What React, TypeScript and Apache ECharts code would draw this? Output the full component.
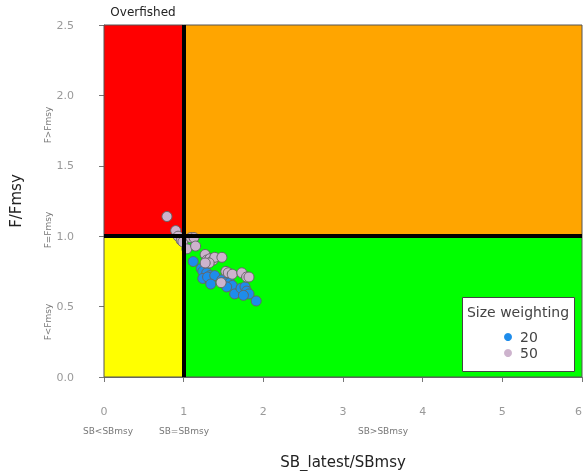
import React, { useEffect, useRef } from "react";
import * as echarts from "echarts";

const xTicks = [0, 1, 2, 3, 4, 5, 6];
const yTicks = [0, 0.5, 1.0, 1.5, 2.0, 2.5];

// Size weighting = 20
const sb20 = [1.12, 1.22, 1.24, 1.29, 1.33, 1.24, 1.30, 1.39, 1.34, 1.48, 1.52, 1.58, 1.61, 1.64, 1.72, 1.77, 1.79, 1.82, 1.91, 1.75, 1.54];
const f20 = [0.82, 0.77, 0.75, 0.74, 0.72, 0.70, 0.71, 0.72, 0.66, 0.69, 0.67, 0.67, 0.65, 0.59, 0.63, 0.64, 0.61, 0.59, 0.54, 0.58, 0.64];

// Size weighting = 50
const sb50 = [0.79, 0.90, 0.93, 0.97, 0.99, 1.04, 1.09, 1.13, 1.15, 1.27, 1.29, 1.33, 1.37, 1.39, 1.48, 1.32, 1.27, 1.53, 1.56, 1.61, 1.73, 1.79, 1.82, 1.47];
const f50 = [1.14, 1.04, 1.00, 0.97, 0.96, 0.91, 0.99, 0.99, 0.93, 0.87, 0.83, 0.84, 0.83, 0.85, 0.85, 0.81, 0.81, 0.75, 0.74, 0.73, 0.74, 0.71, 0.71, 0.67];

const seriesNames = ["20", "50"];
const seriesColors = ["#1E8CEB", "#CDB3CD"];

const FONT = "DejaVu Sans";

export default function App() {
  const ref = useRef<HTMLDivElement>(null);
  useEffect(() => {
    if (!ref.current) return;
    const chart = echarts.init(ref.current, undefined, { renderer: "svg", width: 583, height: 471 });
    const pts = (xs: number[], ys: number[]) => xs.map((x, i) => [x, ys[i]]);
    const regionStyle = (c: string) => ({ color: c, borderColor: "#555", borderWidth: 1, opacity: 1 });
    chart.setOption({
      animation: false,
      textStyle: { fontFamily: FONT },
      grid: { left: 104, top: 25, width: 478, height: 352, outerBoundsMode: "none", containLabel: false },
      xAxis: {
        type: "value",
        min: xTicks[0],
        max: xTicks[xTicks.length - 1],
        interval: 1,
        offset: 15,
        splitLine: { show: false },
        axisLine: { show: true, lineStyle: { color: "#777", width: 1 } },
        axisTick: { show: true, length: 5, lineStyle: { color: "#777" } },
        axisLabel: { color: "#999", fontSize: 11, margin: 14, fontFamily: FONT, alignMaxLabel: "right" },
        name: "SB_latest/SBmsy",
        nameLocation: "middle",
        nameGap: 62,
        nameTextStyle: { color: "#222", fontSize: 15, fontFamily: FONT },
      },
      yAxis: {
        type: "value",
        min: yTicks[0],
        max: yTicks[yTicks.length - 1],
        interval: 0.5,
        offset: 19,
        splitLine: { show: false },
        axisLine: { show: true, lineStyle: { color: "#777", width: 1 } },
        axisTick: { show: true, length: 5, lineStyle: { color: "#777" } },
        axisLabel: { color: "#999", fontSize: 11, margin: 11, fontFamily: FONT, formatter: (v: number) => v.toFixed(1) },
        name: "F/Fmsy",
        nameLocation: "middle",
        nameRotate: 90,
        nameGap: 62,
        nameTextStyle: { color: "#222", fontSize: 15, fontFamily: FONT },
      },
      legend: {
        orient: "vertical",
        left: 499,
        top: 325,
        itemWidth: 14,
        itemHeight: 8,
        itemGap: 2,
        icon: "circle",
        textStyle: { color: "#444", fontSize: 14, fontFamily: FONT },
        data: seriesNames.map((n, i) => ({ name: n, itemStyle: { borderWidth: 0, color: seriesColors[i] } })),
        z: 10,
      },
      series: [
        {
          type: "scatter",
          name: "regions",
          data: [],
          z: 1,
          silent: true,
          markArea: {
            silent: true,
            data: [
              [{ coord: [0, 1], itemStyle: regionStyle("#FF0000") }, { coord: [1, 2.5] }],
              [{ coord: [1, 1], itemStyle: regionStyle("#FFA500") }, { coord: [6, 2.5] }],
              [{ coord: [0, 0], itemStyle: regionStyle("#FFFF00") }, { coord: [1, 1] }],
              [{ coord: [1, 0], itemStyle: regionStyle("#00FF00") }, { coord: [6, 1] }],
            ],
          },
          markLine: {
            silent: true,
            symbol: "none",
            label: { show: false },
            lineStyle: { color: "#000", width: 4, type: "solid" },
            data: [
              [{ coord: [1, 0] }, { coord: [1, 2.5] }],
              [{ coord: [0, 1] }, { coord: [6, 1] }],
            ],
          },
        },
        {
          type: "scatter",
          name: seriesNames[0],
          data: pts(sb20, f20),
          symbolSize: 10,
          z: 3,
          itemStyle: { color: seriesColors[0], borderColor: "#666", borderWidth: 1, opacity: 1 },
        },
        {
          type: "scatter",
          name: seriesNames[1],
          data: pts(sb50, f50),
          symbolSize: 10,
          z: 4,
          itemStyle: { color: seriesColors[1], borderColor: "#666", borderWidth: 1, opacity: 1 },
        },
      ],
      graphic: [
        { type: "text", x: 143, y: 12, z: 10, style: { text: "Overfished", fontSize: 12, fill: "#222", align: "center", verticalAlign: "middle", fontFamily: FONT } },
        { type: "text", x: 108, y: 431, z: 10, style: { text: "SB<SBmsy", fontSize: 9, fill: "#777", align: "center", verticalAlign: "middle", fontFamily: FONT } },
        { type: "text", x: 184, y: 431, z: 10, style: { text: "SB=SBmsy", fontSize: 9, fill: "#777", align: "center", verticalAlign: "middle", fontFamily: FONT } },
        { type: "text", x: 383, y: 431, z: 10, style: { text: "SB>SBmsy", fontSize: 9, fill: "#777", align: "center", verticalAlign: "middle", fontFamily: FONT } },
        { type: "text", x: 48, y: 125, rotation: Math.PI / 2, z: 10, style: { text: "F>Fmsy", fontSize: 9, fill: "#777", align: "center", verticalAlign: "middle", fontFamily: FONT } },
        { type: "text", x: 48, y: 230, rotation: Math.PI / 2, z: 10, style: { text: "F=Fmsy", fontSize: 9, fill: "#777", align: "center", verticalAlign: "middle", fontFamily: FONT } },
        { type: "text", x: 48, y: 322, rotation: Math.PI / 2, z: 10, style: { text: "F<Fmsy", fontSize: 9, fill: "#777", align: "center", verticalAlign: "middle", fontFamily: FONT } },
        { type: "rect", z: 5, shape: { x: 462.5, y: 297.5, width: 112, height: 74 }, style: { fill: "#fff", stroke: "#444", lineWidth: 1 } },
        { type: "text", x: 518, y: 312, z: 10, style: { text: "Size weighting", fontSize: 14, fill: "#444", align: "center", verticalAlign: "middle", fontFamily: FONT } },
      ],
    });
    return () => chart.dispose();
  }, []);
  return <div ref={ref} style={{ position: "fixed", left: 0, top: 0, width: 583, height: 471 }} />;
}
